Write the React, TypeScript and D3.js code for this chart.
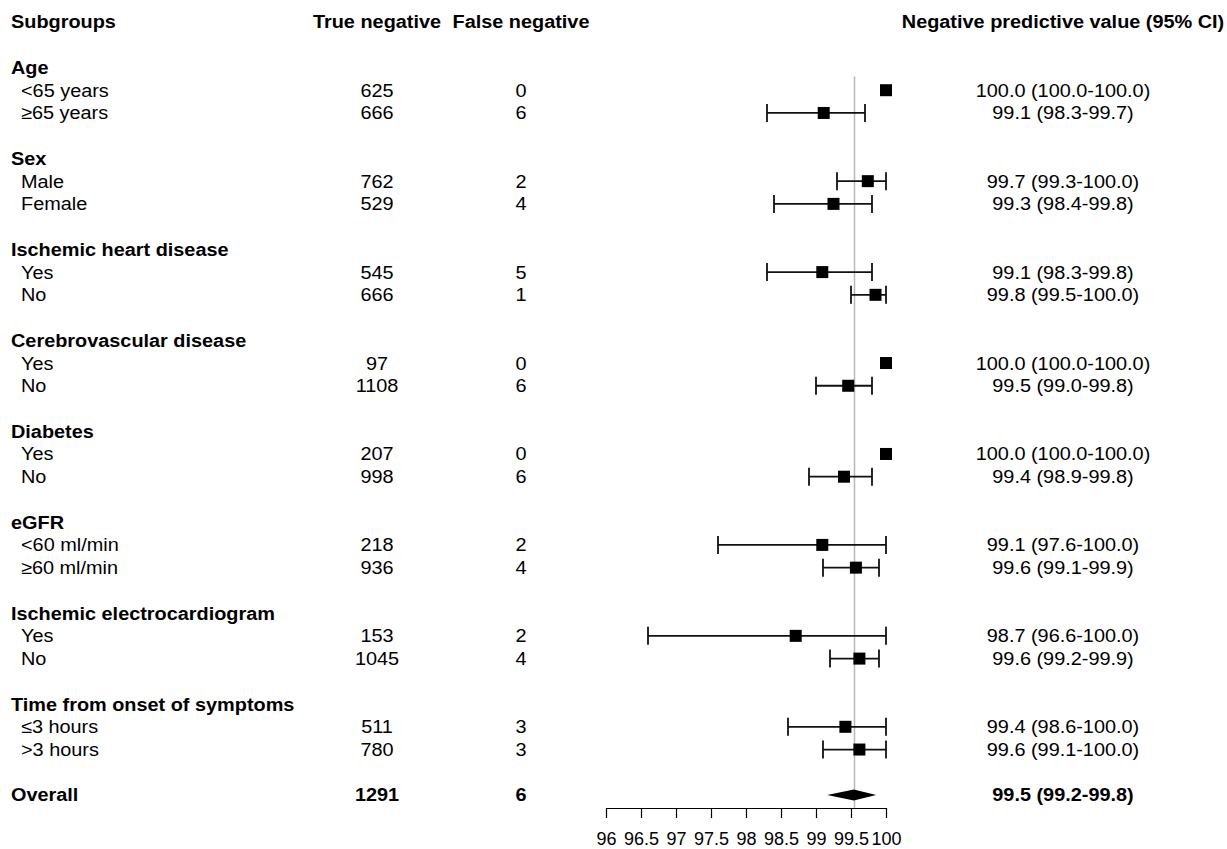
import React from 'react';
import * as d3 from 'd3';

// subgroup data
const groupNames = [
  'Age',
  'Sex',
  'Ischemic heart disease',
  'Cerebrovascular disease',
  'Diabetes',
  'eGFR',
  'Ischemic electrocardiogram',
  'Time from onset of symptoms',
];
const subLabels = [
  ['<65 years', '≥65 years'],
  ['Male', 'Female'],
  ['Yes', 'No'],
  ['Yes', 'No'],
  ['Yes', 'No'],
  ['<60 ml/min', '≥60 ml/min'],
  ['Yes', 'No'],
  ['≤3 hours', '>3 hours'],
];
const trueNeg = [[625, 666], [762, 529], [545, 666], [97, 1108], [207, 998], [218, 936], [153, 1045], [511, 780]];
const falseNeg = [[0, 6], [2, 4], [5, 1], [0, 6], [0, 6], [2, 4], [2, 4], [3, 3]];
const npvEst = [[100.0, 99.11], [99.74, 99.25], [99.09, 99.85], [100.0, 99.46], [100.0, 99.4], [99.09, 99.57], [98.71, 99.62], [99.42, 99.62]];
const npvLow = [[100.0, 98.3], [99.3, 98.4], [98.3, 99.5], [100.0, 99.0], [100.0, 98.9], [97.6, 99.1], [96.6, 99.2], [98.6, 99.1]];
const npvHigh = [[100.0, 99.7], [100.0, 99.8], [99.8, 100.0], [100.0, 99.8], [100.0, 99.8], [100.0, 99.9], [100.0, 99.9], [100.0, 100.0]];
const npvLabels = [
  ['100.0 (100.0-100.0)', '99.1 (98.3-99.7)'],
  ['99.7 (99.3-100.0)', '99.3 (98.4-99.8)'],
  ['99.1 (98.3-99.8)', '99.8 (99.5-100.0)'],
  ['100.0 (100.0-100.0)', '99.5 (99.0-99.8)'],
  ['100.0 (100.0-100.0)', '99.4 (98.9-99.8)'],
  ['99.1 (97.6-100.0)', '99.6 (99.1-99.9)'],
  ['98.7 (96.6-100.0)', '99.6 (99.2-99.9)'],
  ['99.4 (98.6-100.0)', '99.6 (99.1-100.0)'],
];

const overallTN = 1291;
const overallFN = 6;
const overallEst = 99.54;
const overallLow = 99.16;
const overallHigh = 99.86;
const overallLabel = '99.5 (99.2-99.8)';
const refLine = 99.55;

const tickValues = [96, 96.5, 97, 97.5, 98, 98.5, 99, 99.5, 100];

const font = '"Liberation Sans", Arial, Helvetica, sans-serif';
const stretch = 1.075; // text in the picture is a little wide

// text with a small horizontal stretch
function T(props: any) {
  const { x, y, children, ...rest } = props;
  return (
    <text transform={`translate(${x},${y}) scale(${stretch},1)`} dy="0.35em" {...rest}>
      {children}
    </text>
  );
}

export default function App() {
  const axisRef = React.useRef<SVGGElement>(null);

  const x = d3.scaleLinear().domain([96, 100]).range([606, 886]);
  const y = d3.scaleLinear().domain([0, 34]).range([22, 795]);

  const colX = { label: 11, sub: 21, tn: 377, fn: 521, npv: 1063 };
  const axisY = 808;

  React.useEffect(() => {
    const g = d3.select(axisRef.current);
    g.selectAll('*').remove();
    g.call(
      d3.axisBottom(x)
        .tickValues(tickValues)
        .tickFormat((d) => String(d))
        .tickSize(10)
        .tickSizeOuter(0)
        .tickPadding(14)
    );
    g.select('.domain').attr('stroke', '#000').attr('stroke-width', 1.2);
    g.selectAll('.tick line').attr('stroke', '#000').attr('stroke-width', 1.2);
    g.selectAll('.tick text')
      .attr('fill', '#000')
      .style('font-family', font)
      .style('font-size', '18px');
  }, []);

  // build rows: group header then two subgroup rows, with a gap
  const rows: any[] = [];
  groupNames.forEach((name, gi) => {
    const base = 2 + gi * 4;
    rows.push({ kind: 'group', idx: base, label: name });
    subLabels[gi].forEach((s, si) => {
      rows.push({
        kind: 'sub',
        idx: base + 1 + si,
        label: s,
        tn: trueNeg[gi][si],
        fn: falseNeg[gi][si],
        est: npvEst[gi][si],
        lo: npvLow[gi][si],
        hi: npvHigh[gi][si],
        txt: npvLabels[gi][si],
      });
    });
  });

  const oy = y(34);
  const sq = 12;
  const cap = 9;

  return (
    <svg
      width={1227}
      height={849}
      style={{ position: 'absolute', left: 0, top: 0, background: '#fff' }}
      fontFamily={font}
      fontSize={18.5}
      fill="#000"
    >
      {/* column headers */}
      <g fontWeight="bold">
        <T x={colX.label} y={y(0)}>Subgroups</T>
        <T x={colX.tn} y={y(0)} textAnchor="middle">True negative</T>
        <T x={colX.fn} y={y(0)} textAnchor="middle">False negative</T>
        <T x={colX.npv} y={y(0)} textAnchor="middle">Negative predictive value (95% CI)</T>
      </g>

      {/* reference line */}
      <line x1={x(refLine)} x2={x(refLine)} y1={y(2.4)} y2={axisY} stroke="#b8b8b8" strokeWidth={1.5} />

      {rows.map((r, i) => {
        const cy = y(r.idx);
        if (r.kind === 'group') {
          return (
            <T key={i} x={colX.label} y={cy} fontWeight="bold">{r.label}</T>
          );
        }
        const hasCI = r.hi > r.lo;
        return (
          <g key={i}>
            <T x={colX.sub} y={cy}>{r.label}</T>
            <T x={colX.tn} y={cy} textAnchor="middle">{r.tn}</T>
            <T x={colX.fn} y={cy} textAnchor="middle">{r.fn}</T>
            <T x={colX.npv} y={cy} textAnchor="middle">{r.txt}</T>
            {hasCI && (
              <g stroke="#111" strokeWidth={1.8}>
                <line x1={x(r.lo)} x2={x(r.hi)} y1={cy} y2={cy} />
                <line x1={x(r.lo)} x2={x(r.lo)} y1={cy - cap} y2={cy + cap} />
                <line x1={x(r.hi)} x2={x(r.hi)} y1={cy - cap} y2={cy + cap} />
              </g>
            )}
            <rect x={x(r.est) - sq / 2} y={cy - sq / 2} width={sq} height={sq} fill="#000" />
          </g>
        );
      })}

      {/* overall */}
      <g fontWeight="bold">
        <T x={colX.label} y={oy}>Overall</T>
        <T x={colX.tn} y={oy} textAnchor="middle">{overallTN}</T>
        <T x={colX.fn} y={oy} textAnchor="middle">{overallFN}</T>
        <T x={colX.npv} y={oy} textAnchor="middle">{overallLabel}</T>
      </g>
      <path
        d={`M${x(overallLow)},${oy} L${x(overallEst)},${oy - 5.5} L${x(overallHigh)},${oy} L${x(overallEst)},${oy + 5.5} Z`}
        fill="#000"
      />

      <g ref={axisRef} transform={`translate(0,${axisY})`} />
    </svg>
  );
}
